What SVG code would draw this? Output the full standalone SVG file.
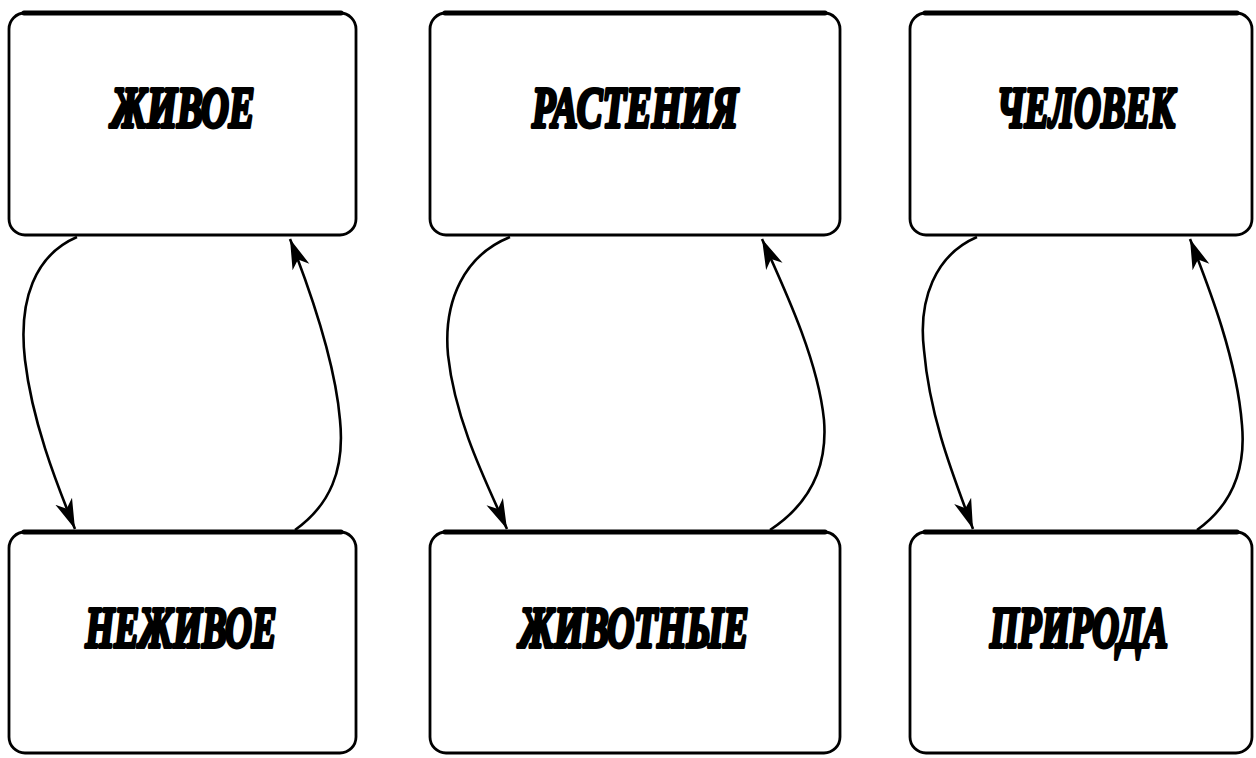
<svg xmlns="http://www.w3.org/2000/svg" width="1256" height="758" viewBox="0 0 1256 758">
<style>
.box{fill:#fff;stroke:#000;stroke-width:2.8}
.top{stroke:#000;stroke-width:5;stroke-linecap:round}
.lbl{font-family:"Liberation Serif","Times New Roman",serif;font-weight:700;font-style:italic;font-size:58px;fill:#000;stroke:#000;stroke-width:4;stroke-linejoin:round;text-anchor:middle}
.con{fill:none;stroke:#000;stroke-width:2.6}
</style>
<defs>
<marker id="ah" markerUnits="userSpaceOnUse" markerWidth="34" markerHeight="22" refX="30" refY="11" orient="auto">
<path d="M0,2 L30,11 L0,20 L8,11 z" fill="#000"/>
</marker>
</defs>
<rect width="1256" height="758" fill="#fff"/>
<g id="n-zhivoe"><rect class="box" x="9" y="13" width="347" height="222" rx="16"/><line class="top" x1="24" y1="13" x2="341" y2="13"/><text class="lbl" x="183" y="127" textLength="143" lengthAdjust="spacingAndGlyphs">ЖИВОЕ</text></g>
<g id="n-nezhivoe"><rect class="box" x="9" y="532" width="347" height="221" rx="16"/><line class="top" x1="24" y1="532" x2="341" y2="532"/><text class="lbl" x="181" y="647" textLength="191" lengthAdjust="spacingAndGlyphs">НЕЖИВОЕ</text></g>
<g id="n-rasteniya"><rect class="box" x="430" y="13" width="410" height="222" rx="16"/><line class="top" x1="445" y1="13" x2="825" y2="13"/><text class="lbl" x="635" y="127" textLength="206" lengthAdjust="spacingAndGlyphs">РАСТЕНИЯ</text></g>
<g id="n-zhivotnye"><rect class="box" x="430" y="532" width="410" height="221" rx="16"/><line class="top" x1="445" y1="532" x2="825" y2="532"/><text class="lbl" x="634" y="647" textLength="229" lengthAdjust="spacingAndGlyphs">ЖИВОТНЫЕ</text></g>
<g id="n-chelovek"><rect class="box" x="910" y="13" width="342" height="222" rx="16"/><line class="top" x1="925" y1="13" x2="1237" y2="13"/><text class="lbl" x="1086" y="127" textLength="178" lengthAdjust="spacingAndGlyphs">ЧЕЛОВЕК</text></g>
<g id="n-priroda"><rect class="box" x="910" y="532" width="342" height="221" rx="16"/><line class="top" x1="925" y1="532" x2="1237" y2="532"/><text class="lbl" x="1079" y="647" textLength="178" lengthAdjust="spacingAndGlyphs">ПРИРОДА</text></g>
<g id="connectors">
<path class="con" marker-end="url(#ah)" d="M77,237 C35,255 18,300 25,360 C32,420 55,480 75,529"/>
<path class="con" marker-end="url(#ah)" d="M295,530 C330,505 345,470 340,420 C335,360 310,290 290,239"/>
<path class="con" marker-end="url(#ah)" d="M510,237 C465,255 443,300 448,355 C455,420 485,480 507,529"/>
<path class="con" marker-end="url(#ah)" d="M770,530 C808,505 828,470 824,420 C818,360 785,290 762,239"/>
<path class="con" marker-end="url(#ah)" d="M977,237 C935,255 918,300 924,350 C930,420 955,480 973,529"/>
<path class="con" marker-end="url(#ah)" d="M1197,530 C1232,505 1246,470 1242,425 C1237,360 1210,290 1190,239"/>
</g>
</svg>
